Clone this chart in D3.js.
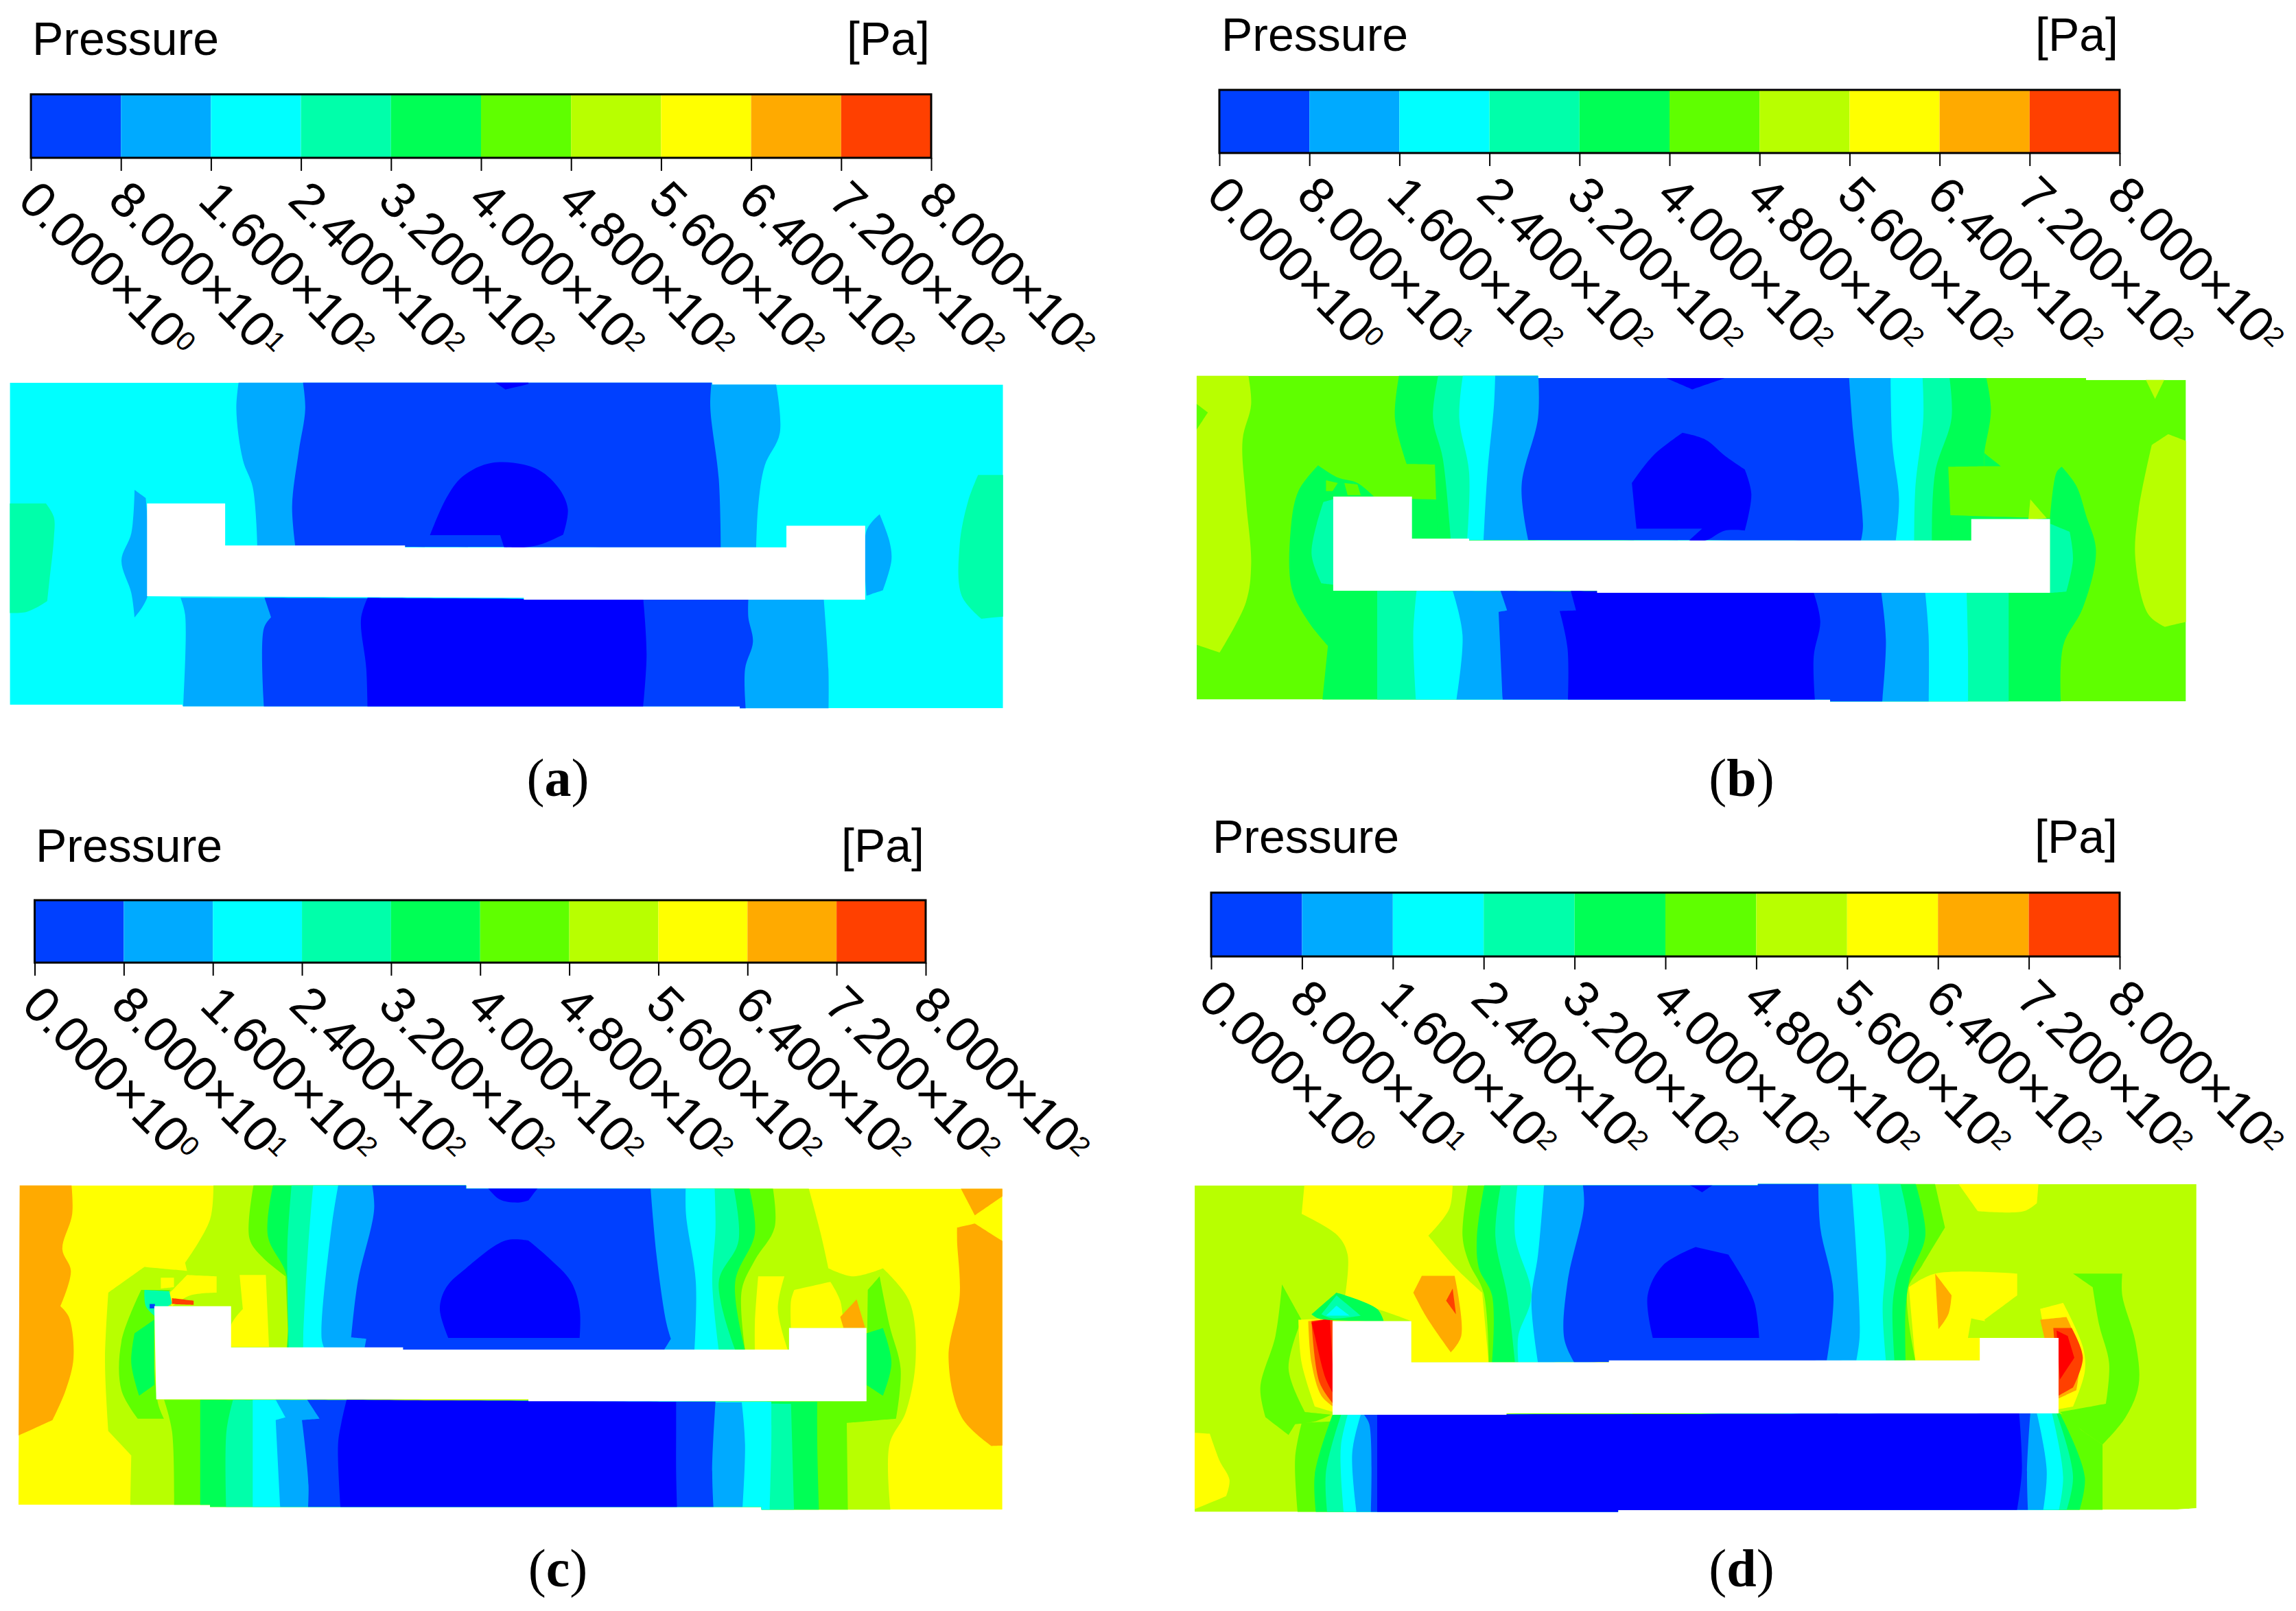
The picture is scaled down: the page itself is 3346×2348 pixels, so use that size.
<!DOCTYPE html>
<html>
<head>
<meta charset="utf-8">
<script src="https://cdn.jsdelivr.net/npm/d3@7"></script>
<style>
  html, body { margin: 0; padding: 0; background: #fff; }
</style>
</head>
<body>
<svg id="chart"></svg>
<script>
// colour bar
const pressureTicks = [0, 80, 160, 240, 320, 400, 480, 560, 640, 720, 800];
const tickMantissa = ['0.000', '8.000', '1.600', '2.400', '3.200', '4.000', '4.800', '5.600', '6.400', '7.200', '8.000'];
const tickExponent = ['0', '1', '2', '2', '2', '2', '2', '2', '2', '2', '2'];
const bandColors = ['#0000ff', '#0040ff', '#00aaff', '#00ffff', '#00ffaa', '#00ff55', '#5fff00', '#b8ff00', '#ffff00', '#ffaa00', '#ff4000', '#ff0000'];

// contour regions: [lower pressure of the band, outline in read-off units 0-1568]
const outlineA = [[15,45],[1085,45],[1085,52],[1528,52],[1528,1245],[1127,1245],[1127,1238],[278,1238],[278,1232],[15,1232]];
const bodyA = [[224,490],[343,490],[343,645],[617,645],[617,652],[1198,652],[1198,572],[1318,572],[1318,845],[798,845],[798,838],[224,832]];
const bandsA = [
  [240, [[-20,490],[70,490],[82,540],[82,620],[75,780],[72,850],[40,890],[-20,890]]],
  [240, [[1560,385],[1490,385],[1475,480],[1462,640],[1465,830],[1495,915],[1560,900]]],
  [80, [[365,20],[360,140],[370,330],[385,430],[392,650],[1152,652],[1155,500],[1165,350],[1188,230],[1180,20]]],
  [80, [[275,838],[282,900],[278,1280],[1262,1280],[1262,1100],[1255,845]]],
  [80, [[205,440],[222,470],[225,830],[205,910],[200,820],[185,700],[200,600]]],
  [80, [[1340,530],[1355,630],[1358,700],[1345,810],[1320,830],[1320,590]]],
  [0, [[460,20],[465,140],[455,300],[445,500],[450,650],[1098,652],[1095,400],[1082,130],[1085,20]]],
  [0, [[403,838],[413,910],[402,950],[403,1280],[1137,1280],[1135,1100],[1147,1000],[1140,910],[1140,845]]],
  [-80, [[750,340],[815,360],[850,430],[865,510],[858,605],[825,640],[800,652],[768,652],[762,607],[655,607],[680,470],[705,390]]],
  [-80, [[740,20],[805,20],[805,50],[770,70]]],
  [-80, [[560,838],[550,915],[558,1100],[560,1280],[978,1280],[985,1050],[980,845]]]
];

const outlineB = [[25,45],[545,45],[545,53],[1380,53],[1380,60],[1532,60],[1532,1245],[990,1245],[990,1238],[25,1238]];
const bodyB = [[233,490],[353,490],[353,645],[440,645],[440,652],[1205,652],[1205,573],[1325,573],[1325,845],[635,845],[635,837],[233,837]];
const bandsB = [
  [480, [[-20,20],[102,20],[108,150],[95,280],[100,500],[108,740],[100,880],[60,1065],[-20,1000]]],
  [400, [[15,130],[42,180],[15,280]]],
  [480, [[1465,30],[1505,30],[1485,130]]],
  [480, [[1505,260],[1570,320],[1570,930],[1500,970],[1475,925],[1455,720],[1460,540],[1480,300]]],
  [320, [[210,375],[180,470],[168,620],[170,830],[195,950],[225,1040],[215,1280],[1342,1280],[1345,1040],[1375,900],[1395,690],[1380,560],[1365,450],[1343,380],[1335,400],[1325,570],[240,490],[295,490],[270,440],[240,420]]],
  [400, [[222,430],[240,440],[232,470],[222,470]]],
  [400, [[250,440],[270,445],[275,485],[255,485]]],
  [320, [[335,20],[327,200],[345,370],[388,372],[392,650],[1175,652],[1170,380],[1225,378],[1225,330],[1235,170],[1225,20]]],
  [320, [[1225,330],[1250,378],[1225,378]]],
  [480, [[1295,500],[1320,570],[1292,575]]],
  [240, [[395,20],[385,200],[400,350],[412,650],[1145,652],[1150,400],[1175,200],[1170,20]]],
  [240, [[300,838],[300,1280],[1262,1280],[1262,845]]],
  [240, [[233,500],[218,510],[200,700],[215,810],[233,815]]],
  [240, [[1325,590],[1355,620],[1360,720],[1350,840],[1325,845]]],
  [160, [[432,20],[425,200],[440,400],[437,650],[1118,652],[1120,450],[1132,200],[1130,20]]],
  [160, [[360,838],[355,1000],[360,1280],[1200,1280],[1200,1050],[1198,845]]],
  [80, [[480,20],[478,150],[468,400],[462,650],[1090,652],[1095,500],[1085,300],[1082,20]]],
  [80, [[415,838],[430,1000],[418,1280],[1140,1280],[1140,1000],[1135,845]]],
  [0, [[545,20],[545,200],[520,450],[530,650],[1037,652],[1040,600],[1025,250],[1018,20]]],
  [0, [[488,838],[498,910],[485,915],[492,1280],[1068,1280],[1075,1020],[1068,845]]],
  [-80, [[765,255],[800,280],[830,340],[860,390],[870,480],[860,615],[830,615],[800,652],[775,652],[795,608],[695,608],[688,440],[720,340]]],
  [-80, [[740,20],[830,20],[830,53],[780,95],[740,53]]],
  [-80, [[595,838],[603,910],[578,912],[590,1050],[590,1280],[968,1280],[965,1080],[975,950],[965,845]]]
];

const outlineC = [[30,45],[710,45],[710,57],[1527,57],[1527,1240],[1160,1240],[1160,1230],[320,1230],[320,1222],[28,1222]];
const bodyC = [[235,490],[352,490],[352,642],[614,642],[614,650],[1202,650],[1202,570],[1320,570],[1320,840],[805,840],[805,833],[238,833]];
const bandsC = [
  [640, [[-20,20],[108,20],[110,150],[95,280],[108,360],[92,490],[105,530],[112,680],[100,800],[80,910],[-20,1020]]],
  [640, [[1458,30],[1560,30],[1485,155]]],
  [640, [[1458,200],[1485,185],[1560,300],[1560,1000],[1510,1005],[1465,900],[1445,680],[1462,450],[1458,250]]],
  [480, [[325,20],[320,170],[282,330],[285,360],[220,345],[165,440],[160,700],[165,950],[200,1040],[198,1280],[1358,1280],[1355,1000],[1380,880],[1395,680],[1385,470],[1345,350],[1300,380],[1262,350],[1250,220],[1228,20]]],
  [560, [[365,375],[405,375],[410,640],[352,640],[352,560],[370,500]]],
  [560, [[285,375],[330,380],[330,440],[290,450],[262,490],[255,450]]],
  [560, [[245,385],[265,385],[265,420],[245,425]]],
  [560, [[1155,380],[1195,380],[1185,500],[1200,650],[1150,650],[1150,550]]],
  [560, [[1210,430],[1265,400],[1280,470],[1285,570],[1205,570],[1205,470]]],
  [640, [[1305,465],[1318,570],[1285,570],[1280,530]]],
  [400, [[388,20],[380,240],[400,310],[435,380],[440,650],[1135,650],[1130,430],[1150,320],[1180,200],[1175,20]]],
  [400, [[250,835],[262,950],[265,1280],[1292,1280],[1290,920],[1365,905],[1372,720],[1355,560],[1340,380],[1322,430],[1320,840]]],
  [400, [[250,905],[210,905],[185,800],[185,620],[215,430],[260,430],[240,490],[240,840]]],
  [320, [[205,590],[200,700],[212,820],[235,780],[235,540]]],
  [320, [[1320,590],[1345,570],[1358,700],[1345,820],[1320,780]]],
  [320, [[418,20],[408,230],[437,380],[437,650],[1135,650],[1120,400],[1150,220],[1138,20]]],
  [320, [[305,835],[305,1280],[1248,1280],[1245,1000],[1245,842]]],
  [240, [[445,20],[438,250],[438,450],[440,650],[1120,650],[1095,400],[1125,250],[1115,20]]],
  [240, [[355,835],[345,950],[345,1280],[1210,1280],[1205,850]]],
  [160, [[478,20],[470,250],[462,600],[462,650],[1095,650],[1085,400],[1090,200],[1088,20]]],
  [160, [[385,835],[385,1280],[1172,1280],[1175,1000],[1175,842]]],
  [80, [[517,20],[505,200],[490,610],[495,650],[1058,650],[1060,400],[1045,150],[1045,20]]],
  [80, [[420,835],[435,900],[420,910],[428,1280],[1130,1280],[1135,1000],[1130,845]]],
  [0, [[565,20],[570,130],[545,400],[535,605],[558,610],[555,650],[1012,650],[1022,610],[1015,550],[1000,300],[990,20]]],
  [0, [[468,835],[487,905],[460,910],[470,1150],[468,1280],[1088,1280],[1085,1100],[1090,842]]],
  [-80, [[770,248],[805,248],[835,310],[870,400],[883,500],[883,607],[683,607],[670,500],[680,420],[710,350]]],
  [-80, [[733,20],[830,20],[805,100],[790,108],[760,95]]],
  [-80, [[528,835],[520,920],[515,1000],[520,1280],[1032,1280],[1030,1100],[1030,950],[1030,842]]],
  [240, [[220,430],[258,435],[262,480],[235,525],[222,490]]],
  [0, [[228,482],[236,482],[236,498],[228,498]]],
  [720, [[262,460],[295,470],[295,485],[262,482]]]
];

const outlineD = [[22,45],[880,45],[880,40],[1548,40],[1548,1235],[1515,1240],[667,1242],[667,1248],[22,1248]];
const bodyD = [[232,545],[352,545],[352,697],[653,697],[653,690],[1218,690],[1218,607],[1338,607],[1338,885],[497,885],[497,890],[232,890]];
const bandsD = [
  [560, [[190,20],[415,20],[410,130],[378,230],[420,350],[460,440],[470,697],[352,697],[352,545],[300,500],[250,470],[255,300],[240,230],[185,150]]],
  [560, [[1180,20],[1308,20],[1305,110],[1285,140],[1215,140]]],
  [560, [[1150,370],[1275,370],[1275,450],[1225,540],[1240,607],[1220,690],[1120,690],[1110,420]]],
  [560, [[-20,950],[45,960],[60,1060],[75,1130],[70,1190],[-20,1280]]],
  [640, [[368,378],[418,378],[428,600],[412,660],[375,530],[355,440]]],
  [720, [[415,425],[420,520],[405,470]]],
  [640, [[1150,370],[1175,450],[1170,520],[1155,575]]],
  [400, [[155,410],[145,600],[122,790],[130,900],[165,965],[175,925],[205,915],[230,890],[190,880],[165,720],[185,540]]],
  [400, [[1360,370],[1435,370],[1435,450],[1455,620],[1460,780],[1440,900],[1405,1000],[1375,950],[1340,880],[1410,850],[1415,700],[1400,560],[1390,420]]],
  [560, [[180,540],[232,535],[233,880],[205,860],[185,700]]],
  [640, [[195,545],[232,538],[233,860],[215,820],[200,700]]],
  [720, [[200,545],[232,535],[233,850],[212,770]]],
  [800, [[200,550],[228,535],[235,820],[222,760],[205,600]]],
  [560, [[1310,500],[1345,478],[1375,640],[1378,730],[1360,860],[1338,870]]],
  [640, [[1310,540],[1350,530],[1370,660],[1365,800],[1338,830]]],
  [720, [[1330,570],[1358,570],[1375,680],[1360,790],[1338,820]]],
  [800, [[1335,580],[1352,600],[1362,680],[1340,760]]],
  [480, [[1205,535],[1235,550],[1240,607],[1200,607]]],
  [320, [[238,440],[300,500],[310,545],[210,535],[200,520]]],
  [240, [[238,450],[275,525],[232,535],[215,520]]],
  [160, [[238,488],[258,525],[222,525]]],
  [400, [[440,20],[430,230],[440,330],[462,440],[470,697],[1120,690],[1108,430],[1130,340],[1165,200],[1148,20]]],
  [400, [[185,920],[175,1050],[180,1280],[1405,1280],[1405,1000],[1375,950],[1340,885]]],
  [320, [[465,20],[452,230],[455,350],[475,450],[475,697],[1105,690],[1105,500],[1112,380],[1135,230],[1118,20]]],
  [320, [[232,890],[205,1110],[208,1280],[1365,1280],[1378,1120],[1340,885]]],
  [240, [[490,20],[480,230],[498,450],[510,697],[1088,690],[1085,500],[1090,400],[1110,230],[1095,20]]],
  [240, [[245,890],[222,1100],[225,1280],[1345,1280],[1360,1120],[1335,885]]],
  [160, [[515,20],[510,230],[535,450],[515,600],[515,697],[1075,690],[1070,500],[1075,300],[1062,20]]],
  [160, [[255,890],[245,1000],[245,1120],[250,1280],[1335,1280],[1345,1120],[1328,885]]],
  [80, [[555,20],[545,300],[535,470],[545,697],[1030,690],[1035,600],[1030,300],[1022,20]]],
  [80, [[275,890],[262,1030],[270,1280],[1312,1280],[1320,1100],[1305,885]]],
  [0, [[612,20],[615,120],[590,400],[585,610],[600,697],[985,690],[995,440],[975,200],[972,20]]],
  [0, [[280,890],[288,925],[290,1280],[1292,1280],[1290,1100],[1295,885]]],
  [-80, [[785,272],[835,300],[860,400],[875,480],[882,607],[720,607],[712,450],[735,340]]],
  [-80, [[760,20],[825,20],[795,70]]],
  [-80, [[300,890],[300,1280],[1272,1280],[1282,1100],[1278,885]]]
];

const width = 3346, height = 2348;
const unitsMax = 1568; // the contour outlines are stored in 0-1568 units per plot
const cornerAngle = 0.7; // radians of turn above which a contour vertex stays sharp

// page layout of the four sub figures
const panels = [
  {id: 'a', base: 160, bands: bandsA, outline: outlineA, body: bodyA, crop: [0, 540, 1500, 620],
   bar: [45, 137.5, 1357, 230], titleX: 47, titleY: 80, unitX: 1355, capX: 813, capY: 1160},
  {id: 'b', base: 400, bands: bandsB, outline: outlineB, body: bodyB, crop: [1720, 530, 1500, 620],
   bar: [1777, 131, 3089, 223], titleX: 1780, titleY: 74, unitX: 3087, capX: 2538, capY: 1160},
  {id: 'c', base: 560, bands: bandsC, outline: outlineC, body: bodyC, crop: [0, 1710, 1500, 620],
   bar: [50.5, 1312, 1349, 1403], titleX: 52, titleY: 1256, unitX: 1347, capX: 813, capY: 2312},
  {id: 'd', base: 480, bands: bandsD, outline: outlineD, body: bodyD, crop: [1720, 1710, 1500, 620],
   bar: [1765, 1301, 3089, 1394], titleX: 1767, titleY: 1243, unitX: 3086, capX: 2538, capY: 2312}
];

const svg = d3.select('#chart')
  .attr('width', width)
  .attr('height', height)
  .style('display', 'block');

const color = d3.scaleThreshold().domain(pressureTicks).range(bandColors);

function drawLegend(g, p) {
  const [x0, y0, x1, y1] = p.bar;
  const x = d3.scaleLinear().domain([0, 800]).range([x0, x1]);

  g.append('text')
    .attr('x', p.titleX).attr('y', p.titleY)
    .attr('font-family', '"Liberation Sans", Arial, sans-serif')
    .attr('font-size', 68)
    .text('Pressure');
  g.append('text')
    .attr('x', p.unitX).attr('y', p.titleY)
    .attr('text-anchor', 'end')
    .attr('font-family', '"Liberation Sans", Arial, sans-serif')
    .attr('font-size', 68)
    .text('[Pa]');

  g.selectAll('.cell')
    .data(d3.pairs(pressureTicks))
    .enter()
    .append('rect')
      .attr('class', 'cell')
      .attr('x', d => x(d[0]))
      .attr('y', y0)
      .attr('width', d => x(d[1]) - x(d[0]))
      .attr('height', y1 - y0)
      .attr('fill', d => color(d[0]));
  g.append('rect')
    .attr('x', x0).attr('y', y0)
    .attr('width', x1 - x0).attr('height', y1 - y0)
    .attr('fill', 'none').attr('stroke', '#000').attr('stroke-width', 3);

  const axis = g.append('g')
    .attr('transform', `translate(0, ${y1})`)
    .call(d3.axisBottom(x).tickValues(pressureTicks).tickSize(19).tickFormat(''));
  axis.select('.domain').remove();
  axis.selectAll('line').attr('stroke', '#000').attr('stroke-width', 2);
  axis.selectAll('.tick text').each(function (d, i) {
    const t = d3.select(this)
      .attr('x', null).attr('y', null).attr('dy', null)
      .attr('text-anchor', 'start')
      .attr('transform', 'translate(-22, 65) rotate(45)')
      .attr('fill', '#000')
      .attr('font-family', '"Liberation Sans", Arial, sans-serif')
      .attr('font-size', 73);
    t.append('tspan').text(`${tickMantissa[i]}×10`);
    t.append('tspan').attr('dy', -18).attr('font-size', 40).text(tickExponent[i]);
  });
}

function drawField(g, p) {
  const [cx, cy, cw, ch] = p.crop;
  const x = d3.scaleLinear().domain([0, unitsMax]).range([cx, cx + cw]);
  const y = d3.scaleLinear().domain([0, unitsMax]).range([cy, cy + ch]);
  const line = d3.line().x(d => x(d[0])).y(d => y(d[1]));
  const contour = d3.line().x(d => x(d[0])).y(d => y(d[1])).curve(d3.curveCatmullRomClosed.alpha(0.5));

  // a doubled vertex keeps the curve from rounding a hard corner
  const keepCorners = pts => pts.flatMap((pt, i) => {
    const prev = pts[(i - 1 + pts.length) % pts.length];
    const next = pts[(i + 1) % pts.length];
    const a1 = Math.atan2(y(pt[1]) - y(prev[1]), x(pt[0]) - x(prev[0]));
    const a2 = Math.atan2(y(next[1]) - y(pt[1]), x(next[0]) - x(pt[0]));
    let turn = Math.abs(a2 - a1);
    if (turn > Math.PI) turn = 2 * Math.PI - turn;
    return turn > cornerAngle ? [pt, pt] : [pt];
  });

  g.append('clipPath').attr('id', `clip-${p.id}`)
    .append('path').attr('d', line(p.outline) + 'Z');

  const field = g.append('g').attr('clip-path', `url(#clip-${p.id})`);
  field.append('path').attr('d', line(p.outline) + 'Z').attr('fill', color(p.base));
  field.selectAll('.band')
    .data(p.bands)
    .enter()
    .append('path')
      .attr('class', 'band')
      .attr('d', d => contour(keepCorners(d[1])))
      .attr('fill', d => color(d[0]));

  g.append('path').attr('d', line(p.body) + 'Z').attr('fill', '#fff');
}

function drawCaption(g, p) {
  const cap = g.append('text')
    .attr('x', p.capX).attr('y', p.capY)
    .attr('text-anchor', 'middle')
    .attr('font-family', '"Liberation Serif", "Times New Roman", serif')
    .attr('font-size', 78);
  cap.append('tspan').text('(');
  cap.append('tspan').attr('font-weight', 'bold').text(p.id);
  cap.append('tspan').text(')');
}

panels.forEach(p => {
  const g = svg.append('g').attr('class', `panel-${p.id}`);
  drawLegend(g, p);
  drawField(g, p);
  drawCaption(g, p);
});
</script>
</body>
</html>
